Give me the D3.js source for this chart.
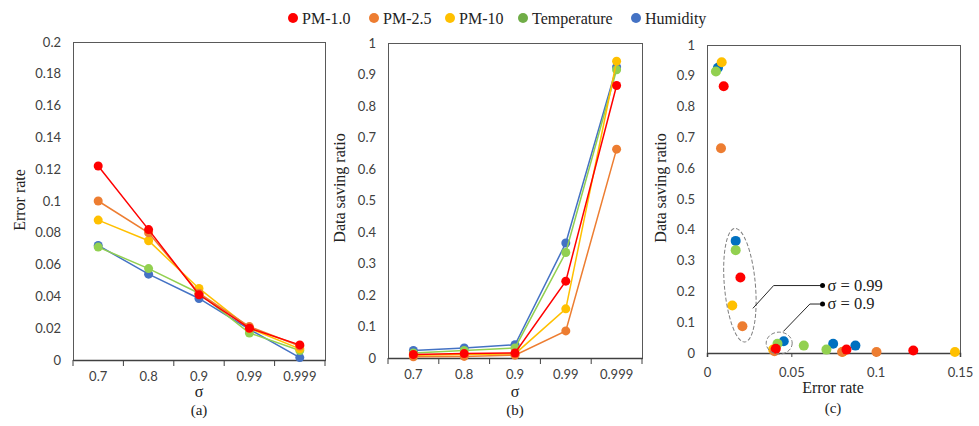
<!DOCTYPE html>
<html>
<head>
<meta charset="utf-8">
<script src="https://cdn.jsdelivr.net/npm/d3@7"></script>
<style>
  body { margin: 0; background: #fff; }
  .tick text { font-family: Lato, "Liberation Sans", sans-serif; font-size: 13px; fill: #404040; }
  .title { font-family: "Liberation Serif", "Times New Roman", serif; font-size: 16px; fill: #222; }
</style>
</head>
<body>
<div id="chart"></div>
<script>
// series names and colours
var seriesNames = ["PM-1.0", "PM-2.5", "PM-10", "Temperature", "Humidity"];
var lineColors = ["#ff0000", "#ed7d31", "#ffc000", "#92d050", "#4472c4"];
var legendColors = ["#ff0000", "#ed7d31", "#ffc000", "#70ad47", "#4472c4"];
var scatterColors = ["#ff0000", "#ed7d31", "#ffc000", "#92d050", "#0070c0"];

// sigma categories
var sigmaLabels = ["0.7", "0.8", "0.9", "0.99", "0.999"];

// (a) error rate per sigma
var errPM1 = [0.122, 0.082, 0.041, 0.020, 0.0095];
var errPM25 = [0.100, 0.080, 0.042, 0.021, 0.0088];
var errPM10 = [0.088, 0.075, 0.045, 0.020, 0.007];
var errTemp = [0.071, 0.0575, 0.042, 0.017, 0.006];
var errHum = [0.072, 0.054, 0.0387, 0.0193, 0.0015];

// (b) data saving ratio per sigma
var savePM1 = [0.011, 0.014, 0.016, 0.244, 0.865];
var savePM25 = [0.004, 0.005, 0.009, 0.086, 0.663];
var savePM10 = [0.009, 0.011, 0.013, 0.156, 0.942];
var saveTemp = [0.016, 0.024, 0.032, 0.335, 0.915];
var saveHum = [0.024, 0.032, 0.042, 0.365, 0.924];

// (c) scatter: error rate (x) and data saving ratio (y)
var scErrPM1 = [0.1223, 0.0827, 0.0408, 0.0198, 0.0099];
var scSavePM1 = [0.008, 0.011, 0.014, 0.245, 0.866];
var scErrPM25 = [0.1005, 0.0801, 0.0400, 0.0210, 0.0083];
var scSavePM25 = [0.003, 0.003, 0.006, 0.087, 0.665];
var scErrPM10 = [0.147, 0.0805, 0.0392, 0.0150, 0.0087];
var scSavePM10 = [0.003, 0.004, 0.011, 0.154, 0.944];
var scErrTemp = [0.0708, 0.0574, 0.0418, 0.0170, 0.0053];
var scSaveTemp = [0.011, 0.024, 0.030, 0.334, 0.914];
var scErrHum = [0.0880, 0.0748, 0.0455, 0.0170, 0.0065];
var scSaveHum = [0.024, 0.030, 0.038, 0.364, 0.926];

var yTicksA = [0, 0.02, 0.04, 0.06, 0.08, 0.1, 0.12, 0.14, 0.16, 0.18, 0.2];
var yTicksB = [0, 0.1, 0.2, 0.3, 0.4, 0.5, 0.6, 0.7, 0.8, 0.9, 1];
var xTicksC = [0, 0.05, 0.1, 0.15];

var errSeries = [errPM1, errPM25, errPM10, errTemp, errHum];
var saveSeries = [savePM1, savePM25, savePM10, saveTemp, saveHum];
var scErr = [scErrPM1, scErrPM25, scErrPM10, scErrTemp, scErrHum];
var scSave = [scSavePM1, scSavePM25, scSavePM10, scSaveTemp, scSaveHum];

var width = 979, height = 426;

var svg = d3.select("#chart")
  .append("svg")
    .attr("width", width)
    .attr("height", height);

// legend
var legendX = [293, 374, 450, 523, 636];
var legend = svg.append("g");
seriesNames.forEach(function(name, i) {
  legend.append("circle")
    .attr("cx", legendX[i]).attr("cy", 18).attr("r", 5)
    .attr("fill", legendColors[i]);
  legend.append("text")
    .attr("class", "title")
    .attr("x", legendX[i] + 9).attr("y", 23.5)
    .text(name);
});

// plot area border
function frame(x0, x1, y) {
  var g = svg.append("g");
  g.append("rect")
    .attr("x", x0 + 0.5).attr("y", y.range()[1] + 0.5)
    .attr("width", x1 - x0).attr("height", y.range()[0] - y.range()[1])
    .attr("fill", "none").attr("stroke", "#595959").attr("stroke-width", 1);
  return g;
}

function yAxis(x0, y, ticks) {
  var g = svg.append("g")
    .attr("transform", "translate(" + x0 + ",0)")
    .call(d3.axisLeft(y).tickValues(ticks).tickSize(0).tickPadding(12).tickFormat(d3.format("")));
  g.select(".domain").remove();
}

function bandXAxis(x, y0) {
  var g = svg.append("g")
    .attr("transform", "translate(0," + y0 + ")")
    .call(d3.axisBottom(x).tickSize(0).tickPadding(12));
  g.select(".domain").attr("stroke", "#404040").attr("stroke-width", 1.5);
  // ticks on band boundaries
  var edges = x.domain().map(function(d) { return x(d); }).concat([x.range()[1]]);
  g.selectAll("line.edge")
    .data(edges)
    .enter().append("line")
      .attr("class", "edge")
      .attr("x1", function(d) { return d; }).attr("x2", function(d) { return d; })
      .attr("y1", 0).attr("y2", 6)
      .attr("stroke", "#404040");
}

function linePanel(x, y, series) {
  var line = d3.line()
    .x(function(d, i) { return x(sigmaLabels[i]) + x.bandwidth() / 2; })
    .y(function(d) { return y(d); });
  for (var k = series.length - 1; k >= 0; k--) {
    var g = svg.append("g");
    g.append("path")
      .attr("d", line(series[k]))
      .attr("fill", "none")
      .attr("stroke", lineColors[k])
      .attr("stroke-width", 1.5);
    g.selectAll("circle")
      .data(series[k])
      .enter().append("circle")
        .attr("cx", function(d, i) { return x(sigmaLabels[i]) + x.bandwidth() / 2; })
        .attr("cy", function(d) { return y(d); })
        .attr("r", 4.5)
        .attr("fill", lineColors[k]);
  }
}

// ---------- (a) ----------
var xA = d3.scaleBand().domain(sigmaLabels).range([73, 325]);
var yA = d3.scaleLinear().domain([0, 0.2]).range([360, 42]);
frame(73, 325, yA);
yAxis(73, yA, yTicksA);
bandXAxis(xA, 360);
linePanel(xA, yA, errSeries);

svg.append("text").attr("class", "title")
  .attr("transform", "translate(25,200) rotate(-90)")
  .attr("text-anchor", "middle").text("Error rate");
svg.append("text").attr("class", "title")
  .attr("x", 199).attr("y", 397).attr("text-anchor", "middle").text("σ");
svg.append("text").attr("class", "title").style("font-size", "15px")
  .attr("x", 199).attr("y", 415).attr("text-anchor", "middle").text("(a)");

// ---------- (b) ----------
var xB = d3.scaleBand().domain(sigmaLabels).range([388, 642]);
var yB = d3.scaleLinear().domain([0, 1]).range([358, 43]);
frame(388, 642, yB);
yAxis(388, yB, yTicksB);
bandXAxis(xB, 358);
linePanel(xB, yB, saveSeries);

svg.append("text").attr("class", "title")
  .attr("transform", "translate(345,188) rotate(-90)")
  .attr("text-anchor", "middle").text("Data saving ratio");
svg.append("text").attr("class", "title")
  .attr("x", 515).attr("y", 397).attr("text-anchor", "middle").text("σ");
svg.append("text").attr("class", "title").style("font-size", "15px")
  .attr("x", 515).attr("y", 415).attr("text-anchor", "middle").text("(b)");

// ---------- (c) ----------
var xC = d3.scaleLinear().domain([0, 0.15]).range([707, 960]);
var yC = d3.scaleLinear().domain([0, 1]).range([353, 45]);
frame(707, 960, yC);
yAxis(707, yC, yTicksB);
var gxC = svg.append("g")
  .attr("transform", "translate(0,353)")
  .call(d3.axisBottom(xC).tickValues(xTicksC).tickSize(4).tickPadding(11).tickFormat(d3.format("")));
gxC.select(".domain").attr("stroke", "#404040").attr("stroke-width", 1.5);
gxC.selectAll(".tick line").attr("stroke", "#404040");

for (var k = seriesNames.length - 1; k >= 0; k--) {
  svg.append("g")
    .selectAll("circle")
    .data(scErr[k])
    .enter().append("circle")
      .attr("cx", function(d) { return xC(d); })
      .attr("cy", function(d, i) { return yC(scSave[k][i]); })
      .attr("r", 5)
      .attr("fill", scatterColors[k]);
}

// annotations (data units)
var ann = svg.append("g");
var e1 = {x: 0.0195, y: 0.22, rx: 15.5, ry: 57, rot: -5};
var e2 = {x: 0.0428, y: 0.032, rx: 13, ry: 11, rot: 0};
[e1, e2].forEach(function(e) {
  ann.append("ellipse")
    .attr("transform", "translate(" + xC(e.x) + "," + yC(e.y) + ") rotate(" + e.rot + ")")
    .attr("rx", e.rx).attr("ry", e.ry)
    .attr("fill", "none").attr("stroke", "#7f7f7f")
    .attr("stroke-width", 1).attr("stroke-dasharray", "4,2");
});
var leaders = [
  {pts: [[0.0272, 0.145], [0.0395, 0.219], [0.0685, 0.219]], label: "σ = 0.99"},
  {pts: [[0.0453, 0.07], [0.0610, 0.159], [0.0685, 0.159]], label: "σ = 0.9"}
];
var leaderLine = d3.line()
  .x(function(d) { return xC(d[0]); })
  .y(function(d) { return yC(d[1]); });
leaders.forEach(function(l) {
  ann.append("path").attr("d", leaderLine(l.pts))
    .attr("fill", "none").attr("stroke", "#262626").attr("stroke-width", 1);
  var end = l.pts[l.pts.length - 1];
  ann.append("circle").attr("cx", xC(end[0])).attr("cy", yC(end[1])).attr("r", 2.5).attr("fill", "#000");
  ann.append("text").attr("class", "title").style("font-size", "16.5px")
    .attr("x", xC(end[0]) + 5).attr("y", yC(end[1]) + 5)
    .text(l.label);
});

svg.append("text").attr("class", "title")
  .attr("transform", "translate(666,188) rotate(-90)")
  .attr("text-anchor", "middle").text("Data saving ratio");
svg.append("text").attr("class", "title")
  .attr("x", 833).attr("y", 393).attr("text-anchor", "middle").text("Error rate");
svg.append("text").attr("class", "title").style("font-size", "15px")
  .attr("x", 833).attr("y", 413).attr("text-anchor", "middle").text("(c)");
</script>
</body>
</html>
